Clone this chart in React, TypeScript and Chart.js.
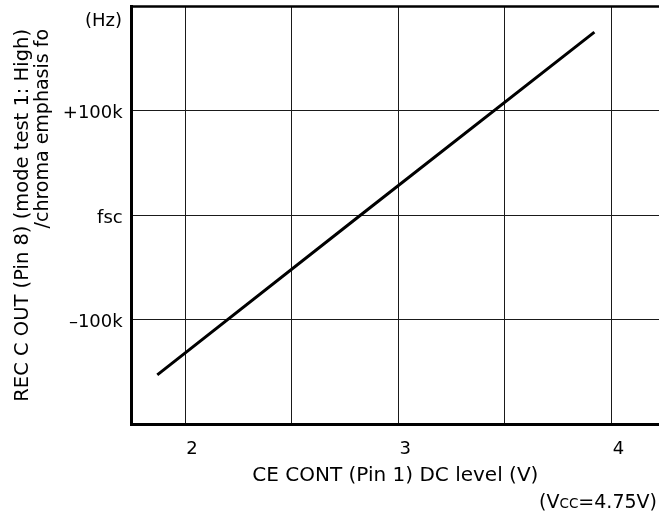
import React, { useEffect, useRef } from "react";
import { Chart, registerables } from "chart.js";

Chart.register(...registerables);

// ---- data ----
const xValues = [1.87, 2.83, 3.92];
const yValues = [-153, 1, 175];
const xGridValues = [2, 2.5, 3, 3.5, 4];
const xTickLabels = ["2", "", "3", "", "4"];
const yGridValues = [-100, 0, 100];
const yTickLabels = ["–100k", "fsc", "+100k"];
const yUnit = "(Hz)";
const xTitle = "CE CONT (Pin 1) DC level (V)";
const yTitleLines = ["REC C OUT (Pin 8) (mode test 1: High)", "/chroma emphasis fo"];
const noteParts = ["(V", "CC", "=4.75V)"];

const FONT = '"DejaVu Sans", sans-serif';

const decorPlugin = {
  id: "decor",
  afterDraw(chart: any) {
    const { ctx, chartArea } = chart;
    ctx.save();
    // top border
    ctx.strokeStyle = "#000";
    ctx.lineWidth = 2.5;
    ctx.beginPath();
    ctx.moveTo(chartArea.left - 1.5, chartArea.top + 0.5);
    ctx.lineTo(chartArea.right, chartArea.top + 0.5);
    ctx.stroke();

    ctx.fillStyle = "#000";
    // unit label
    ctx.font = `18px ${FONT}`;
    ctx.textAlign = "right";
    ctx.textBaseline = "middle";
    ctx.fillText(yUnit, 122, 21);

    // y title (two rotated lines, end-aligned)
    ctx.textBaseline = "alphabetic";
    ctx.textAlign = "right";
    const baselines = [28, 48];
    const titleSizes = [19.5, 19];
    yTitleLines.forEach((t, i) => {
      ctx.save();
      ctx.font = `${titleSizes[i]}px ${FONT}`;
      ctx.translate(baselines[i], 29);
      ctx.rotate(-Math.PI / 2);
      ctx.fillText(t, 0, 0);
      ctx.restore();
    });

    // note (Vcc=4.75V)
    const sizes = [19, 13.5, 19];
    ctx.textAlign = "left";
    const widths = noteParts.map((p, i) => {
      ctx.font = `${sizes[i]}px ${FONT}`;
      return ctx.measureText(p).width;
    });
    const total = widths.reduce((a, b) => a + b, 0);
    let x = 657 - total;
    noteParts.forEach((p, i) => {
      ctx.font = `${sizes[i]}px ${FONT}`;
      ctx.fillText(p, x, 508);
      x += widths[i];
    });
    ctx.restore();
  },
};

export default function App() {
  const ref = useRef<HTMLCanvasElement | null>(null);

  useEffect(() => {
    if (!ref.current) return;
    const chart = new Chart(ref.current, {
      type: "scatter",
      data: {
        datasets: [
          {
            data: xValues.map((x, i) => ({ x, y: yValues[i] })),
            showLine: true,
            borderColor: "#000",
            borderWidth: 3,
            pointRadius: 0,
            fill: false,
          },
        ],
      },
      options: {
        responsive: false,
        animation: false,
        layout: { padding: { top: 6, left: 0, right: 0, bottom: 0 } },
        plugins: {
          legend: { display: false },
          tooltip: { enabled: false },
        },
        scales: {
          x: {
            type: "linear",
            min: 1.75,
            max: 4.223,
            afterBuildTicks: (scale: any) => {
              scale.ticks = xGridValues.map((v) => ({ value: v }));
            },
            afterFit: (scale: any) => {
              scale.height = 91;
              scale.paddingLeft = 0;
              scale.paddingRight = 0;
            },
            grid: { color: "#1a1a1a", lineWidth: 1, drawTicks: false },
            border: { display: true, color: "#000", width: 3 },
            ticks: {
              color: "#000",
              font: { family: FONT, size: 18 },
              padding: 15,
              labelOffset: 7,
              maxRotation: 0,
              autoSkip: false,
              callback: (_v: any, i: number) => xTickLabels[i],
            },
            title: {
              display: true,
              text: xTitle,
              color: "#000",
              font: { family: FONT, size: 20 },
              padding: { top: 0, bottom: 27 },
            },
          },
          y: {
            type: "linear",
            min: -200,
            max: 200,
            afterBuildTicks: (scale: any) => {
              scale.ticks = yGridValues.map((v) => ({ value: v }));
            },
            afterFit: (scale: any) => {
              scale.width = 131.7;
              scale.paddingTop = 0;
              scale.paddingBottom = 0;
            },
            grid: { color: "#1a1a1a", lineWidth: 1, drawTicks: false },
            border: { display: true, color: "#000", width: 3 },
            ticks: {
              color: "#000",
              font: { family: FONT, size: 18 },
              padding: 9,
              labelOffset: 3,
              autoSkip: false,
              callback: (_v: any, i: number) => yTickLabels[i],
            },
          },
        },
      },
      plugins: [decorPlugin],
    } as any);
    return () => chart.destroy();
  }, []);

  return (
    <div style={{ position: "absolute", left: 0, top: 0, width: 659, height: 515, background: "#fff" }}>
      <canvas ref={ref} width={659} height={515} style={{ display: "block" }} />
    </div>
  );
}
